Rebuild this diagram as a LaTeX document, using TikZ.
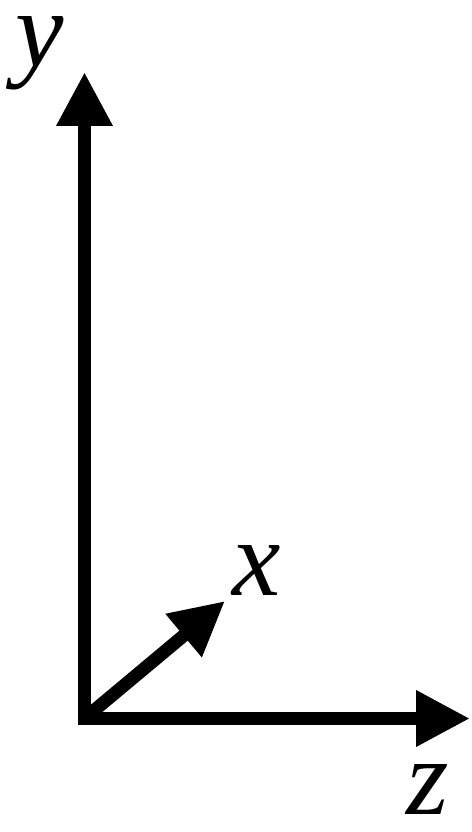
\documentclass[tikz,border=0pt]{standalone}
\usepackage{fontspec}
\setmainfont{Liberation Serif}
\usetikzlibrary{arrows.meta}

\begin{document}
\begin{tikzpicture}[
    x=0.02cm, y=-0.02cm,
    axis/.style={draw=black, line width=0.26cm, miter limit=10,
                 -{Triangle[length=1.08cm, width=1.06cm]}},
    lbl/.style={font=\fontsize{62}{70}\selectfont\itshape, anchor=base,
                inner sep=0pt, text height=0.46em, text depth=0.2em},
]
\useasboundingbox (0,0) rectangle (471,832);

% ===================== Origen y extremos =====================
\coordinate (O)    at (84.5,718.5);
\coordinate (Ytip) at (84.5,72);
\coordinate (Ztip) at (470,718.5);
\coordinate (Xtip) at (225,601);

% ===================== Ejes =====================
\draw[axis, -] (Ytip |- 0,690) -- (O) -- (Ztip -| 440,0);
\draw[axis] (O) -- (Ytip);
\draw[axis] (O) -- (Ztip);
\draw[axis] (O) -- (Xtip);

% ===================== Etiquetas =====================
\node[lbl] (lblY) at (40,66) {y};
\node[lbl] (lblX) at (257,595) {x};
\node[lbl] (lblZ) at (428,814) {z};

\end{tikzpicture}
\end{document}
